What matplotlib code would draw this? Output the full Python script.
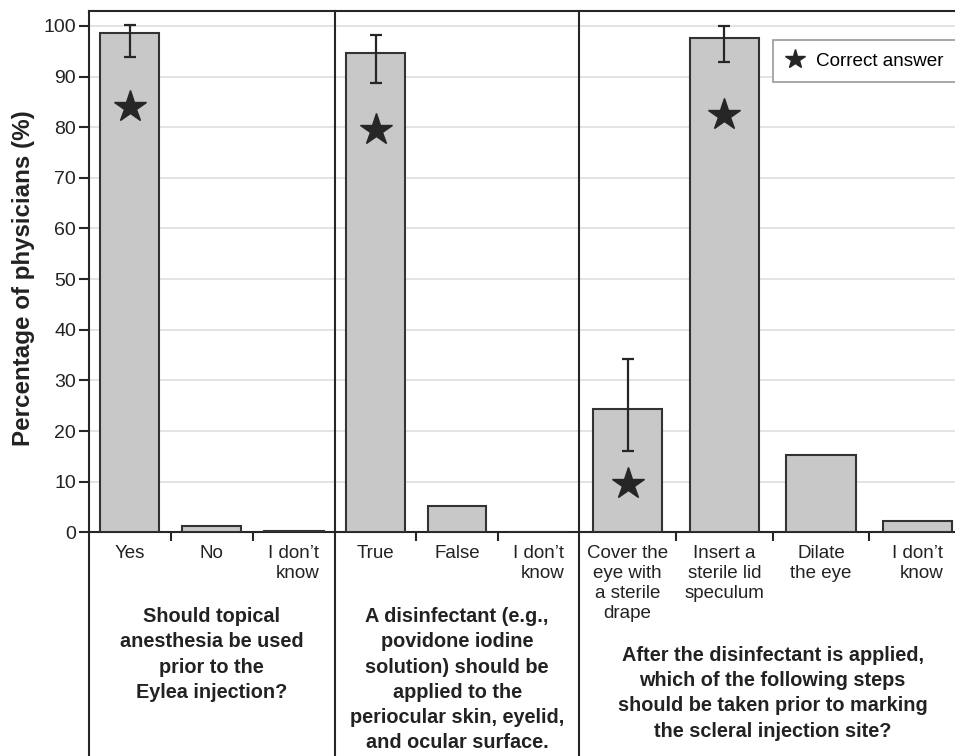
import numpy as np
import matplotlib
matplotlib.use("Agg")
import matplotlib.pyplot as plt
from matplotlib.lines import Line2D

plt.rcParams['font.family'] = ['Liberation Sans', 'DejaVu Sans']

# responses per question
labels_q1 = ["Yes", "No", "I don\u2019t\nknow"]
labels_q2 = ["True", "False", "I don\u2019t\nknow"]
labels_q3 = ["Cover the\neye with\na sterile\ndrape", "Insert a\nsterile lid\nspeculum",
             "Dilate\nthe eye", "I don\u2019t\nknow"]

pct_q1 = [98.6, 1.3, 0.3]
pct_q2 = [94.7, 5.2, 0.0]
pct_q3 = [24.3, 97.7, 15.2, 2.3]

# confidence interval (low, high) for the correct answers only
ci_q1 = {0: (93.9, 100.1)}
ci_q2 = {0: (88.8, 98.2)}
ci_q3 = {0: (16.0, 34.2), 1: (92.8, 100.0)}

# star markers for the correct answer(s)
star_q1 = {0: 84.0}
star_q2 = {0: 79.5}
star_q3 = {0: 9.5, 1: 82.5}

questions = [
    "Should topical\nanesthesia be used\nprior to the\nEylea injection?",
    "A disinfectant (e.g.,\npovidone iodine\nsolution) should be\napplied to the\nperiocular skin, eyelid,\nand ocular surface.",
    "After the disinfectant is applied,\nwhich of the following steps\nshould be taken prior to marking\nthe scleral injection site?",
]

W, H = 955, 756
fig = plt.figure(figsize=(W / 100, H / 100), dpi=100)

y0_px, ytop_px = 532.3, 10.7
bottom = (H - y0_px) / H
height = (y0_px - ytop_px) / H
edges_px = [88.7, 335.0, 579.3, 966.0]

bar_col = '#c8c8c8'
dark = '#262626'

groups = [
    (labels_q1, pct_q1, ci_q1, star_q1, questions[0], 54),
    (labels_q2, pct_q2, ci_q2, star_q2, questions[1], 54),
    (labels_q3, pct_q3, ci_q3, star_q3, questions[2], 82),
]

axes = []
for g, (labs, vals, ci, stars, q, qoff) in enumerate(groups):
    left = edges_px[g] / W
    width = (edges_px[g + 1] - edges_px[g]) / W
    ax = fig.add_axes([left, bottom, width, height])
    axes.append(ax)
    x = np.arange(len(vals))
    ax.bar(x, vals, width=0.72, color=bar_col, edgecolor='#333333', linewidth=1.5, zorder=3)
    for i, (lo, hi) in ci.items():
        ax.errorbar(x[i], vals[i], yerr=[[vals[i] - lo], [hi - vals[i]]], fmt='none',
                    ecolor=dark, elinewidth=1.6, capsize=4.5, capthick=1.6, zorder=4)
    for i, sy in stars.items():
        ax.plot(x[i], sy, marker='*', markersize=24, color=dark, linestyle='none', zorder=5)

    ax.set_xlim(-0.5, len(vals) - 0.5)
    ax.set_ylim(0, 103.0)
    ax.set_yticks(np.arange(0, 101, 10))
    ax.yaxis.grid(True, color='#e0e0e0', linewidth=1.3, zorder=0)
    ax.set_axisbelow(True)

    ax.set_xticks(x)
    ax.set_xticklabels(labs, fontsize=13.5, linespacing=1.23, color='#222222')
    for t in ax.get_xticklabels():
        if 'know' in t.get_text():
            t.set_multialignment('right')
    ax.set_xticks(x[:-1] + 0.5, minor=True)
    ax.tick_params(axis='x', which='major', length=0, pad=9)
    ax.tick_params(axis='x', which='minor', length=6.5, width=1.5, color=dark, direction='out')

    for s in ['left', 'right']:
        ax.spines[s].set_visible(False)
    for s in ['top', 'bottom']:
        ax.spines[s].set_color(dark)
        ax.spines[s].set_linewidth(1.5)

    if g == 0:
        ax.tick_params(axis='y', length=7, width=1.5, color=dark, labelsize=14,
                       labelcolor='#222222', pad=2)
        ax.set_ylabel("Percentage of physicians (%)", fontsize=17.4, fontweight='bold',
                      color='#222222')
        ax.yaxis.set_label_coords(-0.218, 0.488)
    else:
        ax.tick_params(axis='y', left=False, labelleft=False)

    ax.annotate(q, xy=(0.5, 0), xycoords='axes fraction', xytext=(0, -qoff),
                textcoords='offset points', ha='center', va='top', fontsize=14.3,
                fontweight='bold', linespacing=1.41, color='#222222')

# group dividers run from the top frame down to the bottom edge
for xp in edges_px[:3]:
    fig.add_artist(Line2D([xp / W, xp / W], [0, bottom + height], color=dark, linewidth=1.5))

handle = Line2D([], [], marker='*', markersize=15, color=dark, linestyle='none')
leg = axes[2].legend([handle], ["Correct answer"], loc='upper left',
                     bbox_to_anchor=(0.501, 0.944), borderaxespad=0, fontsize=13.6,
                     frameon=True, fancybox=False, framealpha=1, edgecolor='#999999',
                     handlelength=1.0, handletextpad=0.6, borderpad=0.67)
leg.get_frame().set_linewidth(1.2)

fig.savefig("out.png", dpi=100)
